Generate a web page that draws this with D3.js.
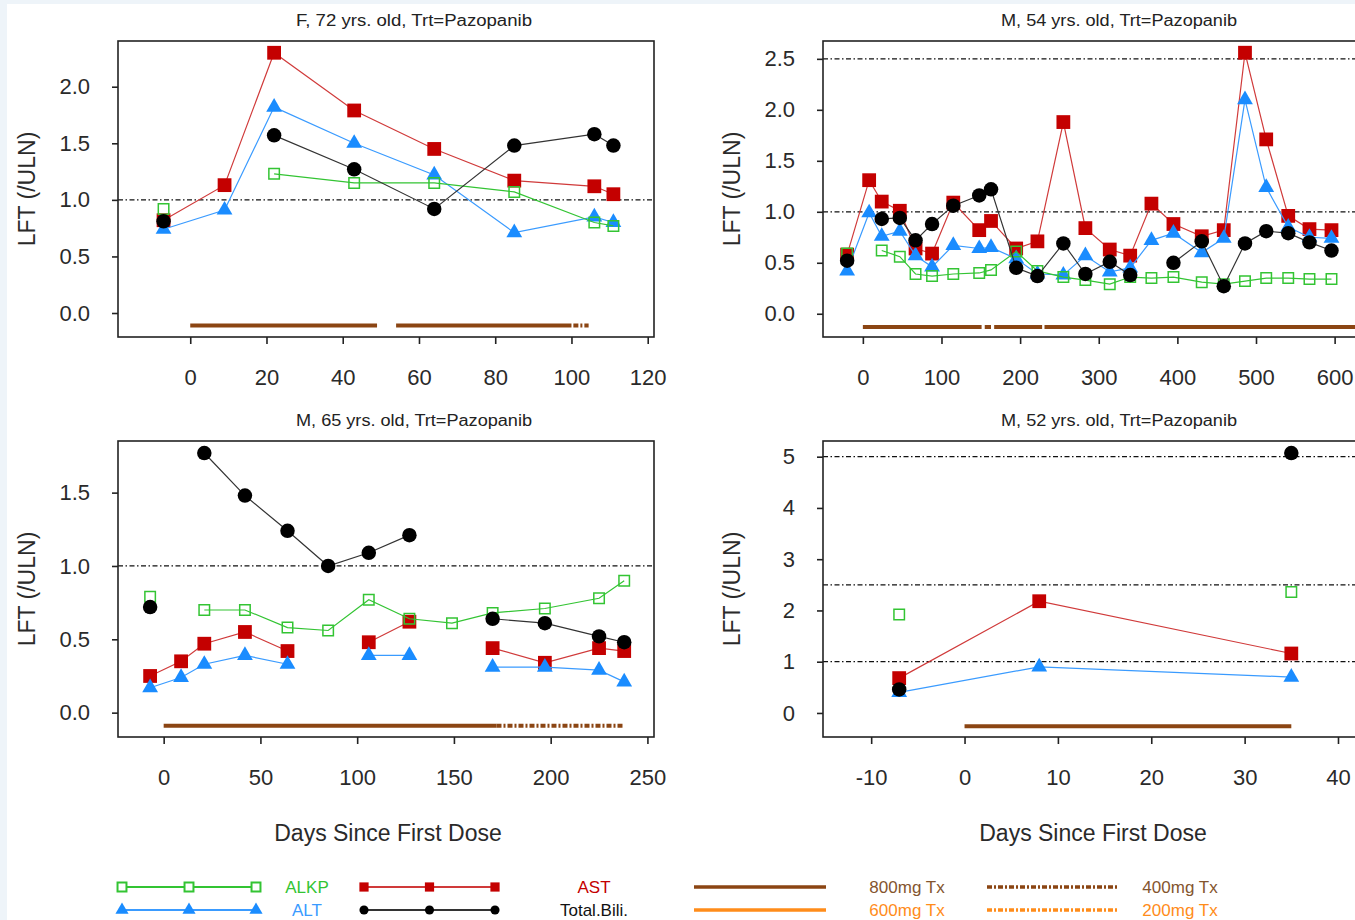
<!DOCTYPE html>
<html><head><meta charset="utf-8">
<script src="https://cdn.jsdelivr.net/npm/d3@7"></script>
<style>
html,body{margin:0;padding:0;background:#fff;}
svg{display:block;font-family:"Liberation Sans",Arial,sans-serif;}
</style></head><body>
<svg id="c" width="1355" height="920"></svg>
<script>
// ---------------- DATA ----------------
const panelTitles = ["F, 72 yrs. old, Trt=Pazopanib", "M, 54 yrs. old, Trt=Pazopanib",
                     "M, 65 yrs. old, Trt=Pazopanib", "M, 52 yrs. old, Trt=Pazopanib"];

// Panel 1: F, 72
const days1 = [-7, 9, 22, 43, 64, 85, 106, 111];
const alkp1 = [0.92, null, 1.23, 1.15, 1.15, 1.07, 0.80, 0.77];
const alt1  = [0.74, 0.91, 1.82, 1.50, 1.22, 0.71, 0.85, 0.80];
const ast1  = [0.82, 1.13, 2.30, 1.79, 1.45, 1.17, 1.12, 1.05];
const bili1 = [0.81, null, 1.57, 1.27, 0.92, 1.48, 1.58, 1.48];
const tx1 = [{from: 0, to: 49, dose: "800mg Tx"}, {from: 54, to: 100, dose: "800mg Tx"}, {from: 100.5, to: 104.5, dose: "400mg Tx"}];
const refs1 = [1];
const xTicks1 = [0, 20, 40, 60, 80, 100, 120];
const yTicks1 = [0, 0.5, 1.0, 1.5, 2.0];

// Panel 2: M, 54
const days2 = [-20, 8, 24, 47, 67, 88, 115, 148, 163, 195, 222, 255, 283, 314, 340, 367, 395, 431, 459, 486, 513, 541, 568, 596];
const alkp2 = [0.59, null, 0.62, 0.56, 0.39, 0.37, 0.39, 0.40, 0.43, 0.61, 0.42, 0.36, 0.33, 0.29, 0.36, 0.35, 0.36, 0.31, 0.29, 0.32, 0.35, 0.35, 0.34, 0.34];
const alt2  = [0.42, 0.99, 0.76, 0.81, 0.57, 0.46, 0.67, 0.64, 0.65, 0.54, 0.39, 0.38, 0.57, 0.41, 0.45, 0.72, 0.79, 0.60, 0.74, 2.10, 1.24, 0.85, 0.75, 0.74];
const ast2  = [0.58, 1.31, 1.10, 1.01, 0.64, 0.59, 1.09, 0.82, 0.91, 0.64, 0.71, 1.88, 0.84, 0.63, 0.57, 1.08, 0.88, 0.76, 0.82, 2.56, 1.71, 0.96, 0.83, 0.82];
const bili2 = [0.52, null, 0.93, 0.94, 0.72, 0.88, 1.06, 1.16, 1.22, 0.45, 0.37, 0.69, 0.39, 0.51, 0.38, null, 0.50, 0.71, 0.27, 0.69, 0.81, 0.79, 0.70, 0.62];
const tx2 = [{from: 0, to: 151, dose: "800mg Tx"}, {from: 155, to: 163, dose: "800mg Tx"}, {from: 167, to: 228, dose: "800mg Tx"}, {from: 231, to: 660, dose: "800mg Tx"}];
const refs2 = [1, 2.5];
const xTicks2 = [0, 100, 200, 300, 400, 500, 600];
const yTicks2 = [0, 0.5, 1.0, 1.5, 2.0, 2.5];

// Panel 3: M, 65
const days3 = [-7, 9, 21, 42, 64, 85, 106, 127, 149, 170, 197, 225, 238];
const alkp3 = [0.79, null, 0.70, 0.70, 0.58, 0.56, 0.77, 0.64, 0.61, 0.68, 0.71, 0.78, 0.90];
const alt3  = [0.17, 0.24, 0.33, 0.39, 0.33, null, 0.39, 0.39, null, 0.31, 0.31, 0.29, 0.21];
const ast3  = [0.25, 0.35, 0.47, 0.55, 0.42, null, 0.48, 0.62, null, 0.44, 0.34, 0.44, 0.42];
const bili3 = [0.72, null, 1.77, 1.48, 1.24, 1.00, 1.09, 1.21, null, 0.64, 0.61, 0.52, 0.48];
const tx3 = [{from: 0, to: 172, dose: "800mg Tx"}, {from: 172, to: 238, dose: "400mg Tx"}];
const refs3 = [1];
const xTicks3 = [0, 50, 100, 150, 200, 250];
const yTicks3 = [0, 0.5, 1.0, 1.5];

// Panel 4: M, 52
const days4 = [-7, 8, 35];
const alkp4 = [1.92, null, 2.36];
const alt4  = [0.40, 0.90, 0.70];
const ast4  = [0.68, 2.18, 1.16];
const bili4 = [0.46, null, 5.07];
const tx4 = [{from: 0, to: 35, dose: "800mg Tx"}];
const refs4 = [1, 2.5, 5];
const xTicks4 = [-10, 0, 10, 20, 30, 40];
const yTicks4 = [0, 1, 2, 3, 4, 5];

const seriesLabels = ["ALKP", "ALT", "AST", "Total.Bili."];
const doseLabels = ["800mg Tx", "600mg Tx", "400mg Tx", "200mg Tx"];
const xTitle = "Days Since First Dose";
const yTitle = "LFT (/ULN)";

// ---------------- LAYOUT / STYLE ----------------
const W = 536, H = 296;
const layout = [
  {x0: 118, y0: 41,  xDom: [-18.95, 121.65], yDom: [-0.212, 2.404], txY: -0.11, fmt: ".1f", xTitle: false},
  {x0: 823, y0: 41,  xDom: [-50.7, 631],     yDom: [-0.228, 2.675], txY: -0.13, fmt: ".1f", xTitle: false},
  {x0: 118, y0: 441, xDom: [-23.6, 253.4],   yDom: [-0.166, 1.852], txY: -0.09, fmt: ".1f", xTitle: true},
  {x0: 823, y0: 441, xDom: [-15.16, 42.25],  yDom: [-0.469, 5.306], txY: -0.26, fmt: "d",   xTitle: true}
];
const panels = [
  {days: days1, alkp: alkp1, alt: alt1, ast: ast1, bili: bili1, tx: tx1, refs: refs1, xTicks: xTicks1, yTicks: yTicks1},
  {days: days2, alkp: alkp2, alt: alt2, ast: ast2, bili: bili2, tx: tx2, refs: refs2, xTicks: xTicks2, yTicks: yTicks2},
  {days: days3, alkp: alkp3, alt: alt3, ast: ast3, bili: bili3, tx: tx3, refs: refs3, xTicks: xTicks3, yTicks: yTicks3},
  {days: days4, alkp: alkp4, alt: alt4, ast: ast4, bili: bili4, tx: tx4, refs: refs4, xTicks: xTicks4, yTicks: yTicks4}
];
const seriesStyle = {
  ALKP: {key: "alkp", line: "#33c433", fill: "none", stroke: "#33c433", sym: d3.symbolSquare, size: 110, lsize: 80},
  ALT: {key: "alt", line: "#3a9bff", fill: "#1a8cff", stroke: "none", sym: d3.symbolTriangle, size: 108, lsize: 75},
  AST: {key: "ast", line: "#d03a3a", fill: "#c40000", stroke: "none", sym: d3.symbolSquare, size: 190, lsize: 85},
  "Total.Bili.": {key: "bili", line: "#333", fill: "#000", stroke: "none", sym: d3.symbolCircle, size: 165, lsize: 65}
};
const drawOrder = ["AST", "ALT", "ALKP", "Total.Bili."];
const doseStyle = {
  "800mg Tx": {color: "#8B4513", dash: null, text: "#84552e"},
  "600mg Tx": {color: "#FF8C1A", dash: null, text: "#ff8c1a"},
  "400mg Tx": {color: "#8B4513", dash: "5,2,2,2", text: "#84552e"},
  "200mg Tx": {color: "#FF8C1A", dash: "5,2,2,2", text: "#ff8c1a"}
};
const legendText = {ALKP: "#33c433", ALT: "#3a9bff", AST: "#c40000", "Total.Bili.": "#111"};
const FONT = '"Liberation Sans", Arial, sans-serif';
const fmtTick = f => v => d3.format(f)(v).replace("\u2212", "-");

// ---------------- DRAW ----------------
const svg = d3.select("#c");
svg.append("rect").attr("width", 1355).attr("height", 920).attr("fill", "#eef4f9");
svg.append("rect").attr("x", 7).attr("y", 4).attr("width", 1348).attr("height", 916).attr("fill", "#fff");

panels.forEach((p, i) => {
  const L = layout[i];
  const x = d3.scaleLinear().domain(L.xDom).range([L.x0, L.x0 + W]);
  const y = d3.scaleLinear().domain(L.yDom).range([L.y0 + H, L.y0]);
  const g = svg.append("g");

  // title
  g.append("text").attr("x", L.x0 + W / 2 + 28).attr("y", L.y0 - 15)
    .attr("text-anchor", "middle").attr("font-size", 16).attr("fill", "#222")
    .attr("textLength", 236).attr("lengthAdjust", "spacingAndGlyphs")
    .text(panelTitles[i]);

  // reference lines
  g.selectAll(".ref").data(p.refs).join("line")
    .attr("x1", L.x0).attr("x2", L.x0 + W)
    .attr("y1", d => y(d)).attr("y2", d => y(d))
    .attr("stroke", "#111").attr("stroke-width", 1.3).attr("stroke-dasharray", "5,2.5,1.5,2.5");

  // treatment bars
  g.selectAll(".tx").data(p.tx).join("line")
    .attr("x1", d => x(d.from)).attr("x2", d => x(d.to))
    .attr("y1", y(L.txY)).attr("y2", y(L.txY))
    .attr("stroke", d => doseStyle[d.dose].color).attr("stroke-width", 4)
    .attr("stroke-dasharray", d => doseStyle[d.dose].dash);

  // series
  drawOrder.forEach(name => {
    const st = seriesStyle[name];
    const pts = p.days.map((d, j) => ({d, v: p[st.key][j]}));
    const line = d3.line().defined(e => e.v != null).x(e => x(e.d)).y(e => y(e.v));
    g.append("path").datum(pts).attr("d", line).attr("fill", "none")
      .attr("stroke", st.line).attr("stroke-width", 1.2);
    g.selectAll(null).data(pts.filter(e => e.v != null)).join("path")
      .attr("transform", e => `translate(${x(e.d)},${y(e.v)})`)
      .attr("d", d3.symbol().type(st.sym).size(st.size))
      .attr("fill", st.fill).attr("stroke", st.stroke).attr("stroke-width", 1.5);
  });

  // box
  g.append("rect").attr("x", L.x0).attr("y", L.y0).attr("width", W).attr("height", H)
    .attr("fill", "none").attr("stroke", "#222").attr("stroke-width", 1.6);

  // axes
  const gx = g.append("g").attr("transform", `translate(0,${L.y0 + H})`)
    .call(d3.axisBottom(x).tickValues(p.xTicks).tickSize(7).tickSizeOuter(0).tickPadding(25).tickFormat(fmtTick("d")));
  const gy = g.append("g").attr("transform", `translate(${L.x0},0)`)
    .call(d3.axisLeft(y).tickValues(p.yTicks).tickSize(6).tickSizeOuter(0).tickPadding(22).tickFormat(fmtTick(L.fmt)));
  [gx, gy].forEach(a => {
    a.attr("font-size", null).attr("font-family", null);
    a.select(".domain").remove();
    a.selectAll(".tick line").attr("stroke", "#222").attr("stroke-width", 1.6);
    a.selectAll(".tick text").attr("font-size", 22).attr("font-family", FONT).attr("fill", "#2a2a2a");
  });

  // y title
  g.append("text").attr("transform", `translate(${L.x0 - 91},${L.y0 + H / 2}) rotate(-90)`)
    .attr("text-anchor", "middle").attr("dominant-baseline", "central")
    .attr("font-size", 23).attr("fill", "#2a2a2a").text(yTitle);
  if (L.xTitle) {
    g.append("text").attr("x", L.x0 + W / 2 + 2).attr("y", L.y0 + H + 104)
      .attr("text-anchor", "middle").attr("font-size", 23).attr("fill", "#2a2a2a").text(xTitle);
  }
});

// ---------------- LEGEND ----------------
const leg = svg.append("g");
const legRows = [887, 910];
const serCols = [{x1: 122, x2: 256, lx: 307}, {x1: 364, x2: 495, lx: 594}];
const doseCols = [{x1: 694, x2: 826, lx: 907}, {x1: 987, x2: 1119, lx: 1180}];
const serPlace = {ALKP: [0, 0], ALT: [0, 1], AST: [1, 0], "Total.Bili.": [1, 1]};
seriesLabels.forEach(name => {
  const [c, r] = serPlace[name];
  const col = serCols[c], yy = legRows[r], st = seriesStyle[name];
  leg.append("line").attr("x1", col.x1).attr("x2", col.x2).attr("y1", yy).attr("y2", yy)
    .attr("stroke", st.line).attr("stroke-width", 2);
  [col.x1, (col.x1 + col.x2) / 2, col.x2].forEach(mx => {
    leg.append("path").attr("transform", `translate(${mx},${yy})`)
      .attr("d", d3.symbol().type(st.sym).size(st.lsize))
      .attr("fill", st.fill === "none" ? "#fff" : st.fill).attr("stroke", st.stroke).attr("stroke-width", 2);
  });
  leg.append("text").attr("x", col.lx).attr("y", yy).attr("dy", "0.36em").attr("text-anchor", "middle")
    .attr("font-size", 17).attr("fill", legendText[name]).text(name);
});
const dosePlace = {"800mg Tx": [0, 0], "600mg Tx": [0, 1], "400mg Tx": [1, 0], "200mg Tx": [1, 1]};
doseLabels.forEach(name => {
  const [c, r] = dosePlace[name];
  const col = doseCols[c], yy = legRows[r], st = doseStyle[name];
  leg.append("line").attr("x1", col.x1).attr("x2", col.x2).attr("y1", yy).attr("y2", yy)
    .attr("stroke", st.color).attr("stroke-width", 3.5).attr("stroke-dasharray", st.dash);
  leg.append("text").attr("x", col.lx).attr("y", yy).attr("dy", "0.36em").attr("text-anchor", "middle")
    .attr("font-size", 17).attr("fill", st.text).text(name);
});
</script>
</body></html>
